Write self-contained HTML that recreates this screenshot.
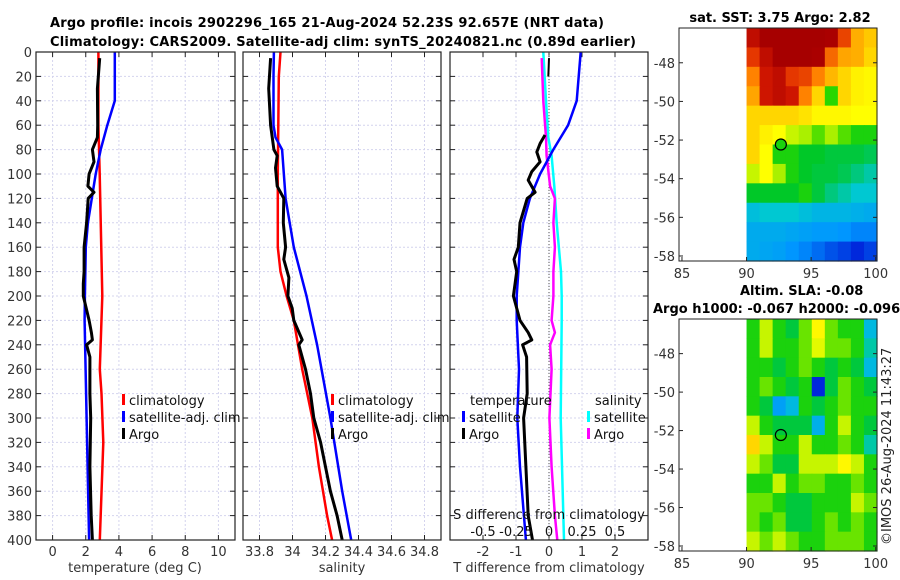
<!DOCTYPE html>
<html><head><meta charset="utf-8"><style>
html,body{margin:0;padding:0;background:#fff}
svg{display:block;font-family:"DejaVu Sans","Liberation Sans",sans-serif}
</style></head><body>
<svg id="c" width="900" height="580" viewBox="0 0 900 580" xmlns="http://www.w3.org/2000/svg">
<text x="50" y="27" font-size="13" font-weight="bold" textLength="554">Argo profile: incois 2902296_165 21-Aug-2024 52.23S 92.657E (NRT data)</text>
<text x="50" y="46" font-size="13" font-weight="bold" textLength="586">Climatology: CARS2009. Satellite-adj clim: synTS_20240821.nc (0.89d earlier)</text>
<text x="780" y="22" font-size="13" font-weight="bold" text-anchor="middle">sat. SST: 3.75 Argo: 2.82</text>
<text x="740" y="295" font-size="13" font-weight="bold">Altim. SLA: -0.08</text>
<text x="653" y="313" font-size="13" font-weight="bold">Argo h1000: -0.067 h2000: -0.096</text>
<text transform="translate(891,545) rotate(-90)" font-size="13" fill="#222">©IMOS 26-Aug-2024 11:43:27</text>
<g id="g"></g>
</svg>
<script>
// ---- data ----
const depthTicks=[0,20,40,60,80,100,120,140,160,180,200,220,240,260,280,300,320,340,360,380,400];
const tTicks=[0,2,4,6,8,10];
const sTicks=[33.8,34,34.2,34.4,34.6,34.8];
const sTickLabels=["33.8","34","34.2","34.4","34.6","34.8"];
const dTicks=[-2,-1,0,1,2];
const dsTicks=[-0.5,-0.25,0,0.25,0.5];
const dsTickLabels=["-0.5","-0.25","0","0.25","0.5"];

const argoDepth=[5,30,60,70,80,90,100,110,115,120,140,160,180,190,200,220,230,236,240,250,280,300,340,380,400];
const argoTemp=[2.84,2.7,2.72,2.7,2.4,2.5,2.2,2.13,2.5,2.15,2.05,1.9,1.9,1.85,1.85,2.2,2.34,2.4,2.05,2.25,2.25,2.3,2.25,2.33,2.4];
const argoSalDepth=[5,30,60,80,85,95,110,120,140,160,170,185,200,210,220,236,240,260,280,300,320,340,360,380,400];
const argoSal=[33.867,33.856,33.867,33.887,33.907,33.897,33.907,33.947,33.944,33.958,33.947,33.978,33.972,33.998,34.008,34.059,34.038,34.079,34.109,34.129,34.17,34.2,34.23,34.27,34.301];
const climTDepth=[0,60,100,200,260,280,320,400];
const climTemp=[2.76,2.76,2.84,3.0,2.85,2.95,3.06,2.85];
const satTDepth=[0,40,60,80,100,140,160,200,220,300,400];
const satTemp=[3.75,3.75,3.3,2.9,2.6,2.13,2.0,1.95,1.93,2.05,2.2];
const climSDepth=[0,20,100,160,180,200,220,260,300,340,380,400];
const climSal=[33.927,33.917,33.911,33.911,33.927,33.964,34.008,34.059,34.12,34.16,34.21,34.24];
const satSDepth=[0,20,60,70,80,120,160,200,240,300,360,400];
const satSal=[33.887,33.885,33.885,33.897,33.937,33.958,34.008,34.085,34.149,34.23,34.301,34.356];
const dSatTDepth=[0,40,60,80,100,120,140,160,200,220,260,300,340,400];
const dSatT=[0.96,0.84,0.58,0.13,-0.27,-0.58,-0.78,-0.88,-0.98,-0.98,-0.91,-0.96,-0.88,-0.7];
const dArgoTDepth=[68,75,82,90,98,105,115,120,140,160,170,180,200,220,230,236,240,250,280,300,340,380,400];
const dArgoT=[-0.12,-0.27,-0.37,-0.27,-0.52,-0.63,-0.42,-0.66,-0.88,-0.93,-1.06,-0.98,-1.08,-0.88,-0.63,-0.52,-0.8,-0.68,-0.66,-0.77,-0.7,-0.63,-0.5];
const dArgoTTopDepth=[5,12,20];
const dArgoTTop=[0,-0.01,-0.02];
const dArgoSDepth=[5,40,70,85,110,120,140,160,180,200,220,230,240,260,300,340,380,400];
const dArgoS=[-0.055,-0.043,-0.023,-0.018,0.008,0.045,0.033,0.045,0.033,0.033,0.02,0.045,0.008,0.02,0.003,0.02,0.045,0.063];
const dSatSDepth=[0,40,70,85,110,140,180,200,220,300,400];
const dSatS=[-0.043,-0.023,-0.005,0.02,0.04,0.058,0.091,0.096,0.096,0.089,0.114];

const lonTicks=[85,90,95,100];
const latTicks=[-48,-50,-52,-54,-56,-58];
const argoLon=92.657, argoLat=-52.23;
const sstGrid=[
[0.92,0.96,0.96,0.96,0.96,0.96,0.95,0.85,0.75,0.72],
[0.86,0.92,0.96,0.96,0.96,0.95,0.82,0.76,0.75,0.7],
[0.8,0.9,0.92,0.86,0.85,0.8,0.74,0.7,0.66,0.65],
[0.76,0.9,0.92,0.9,0.8,0.7,0.52,0.7,0.66,0.65],
[0.7,0.7,0.7,0.7,0.68,0.65,0.65,0.65,0.64,0.64],
[0.7,0.66,0.64,0.6,0.58,0.54,0.58,0.54,0.5,0.5],
[0.7,0.64,0.5,0.5,0.46,0.46,0.45,0.45,0.45,0.44],
[0.6,0.64,0.58,0.5,0.46,0.45,0.45,0.44,0.42,0.4],
[0.46,0.46,0.46,0.46,0.5,0.45,0.42,0.4,0.38,0.38],
[0.36,0.38,0.38,0.38,0.36,0.34,0.34,0.34,0.33,0.32],
[0.32,0.32,0.32,0.31,0.3,0.29,0.29,0.28,0.26,0.26],
[0.32,0.31,0.3,0.28,0.26,0.23,0.2,0.18,0.15,0.18]];
const slaGrid=[
[0.5,0.6,0.5,0.45,0.55,0.65,0.55,0.5,0.5,0.35],
[0.5,0.6,0.5,0.5,0.55,0.62,0.55,0.55,0.5,0.4],
[0.5,0.5,0.45,0.5,0.55,0.5,0.45,0.5,0.45,0.35],
[0.5,0.55,0.5,0.45,0.5,0.15,0.45,0.55,0.5,0.45],
[0.5,0.45,0.3,0.35,0.5,0.45,0.5,0.55,0.5,0.5],
[0.6,0.5,0.45,0.45,0.45,0.33,0.5,0.6,0.5,0.45],
[0.7,0.6,0.5,0.5,0.6,0.5,0.5,0.55,0.5,0.4],
[0.6,0.55,0.45,0.45,0.6,0.6,0.6,0.65,0.6,0.5],
[0.5,0.5,0.6,0.5,0.55,0.55,0.5,0.5,0.55,0.5],
[0.55,0.55,0.5,0.45,0.45,0.5,0.5,0.5,0.6,0.55],
[0.55,0.5,0.55,0.45,0.45,0.5,0.55,0.5,0.55,0.5],
[0.6,0.55,0.6,0.55,0.5,0.5,0.55,0.55,0.55,0.5]];

// ---- helpers ----
const NS="http://www.w3.org/2000/svg";
const G=document.getElementById('g');
function mk(tag,attrs,parent){const e=document.createElementNS(NS,tag);for(const k in attrs)e.setAttribute(k,attrs[k]);(parent||G).appendChild(e);return e;}
const PT=52,PB=540;
const yD=d=>PT+(d/400)*(PB-PT);
const panels=[
 {x0:36,x1:235,v0:-1,v1:11},
 {x0:243,x1:441,v0:33.7,v1:34.9},
 {x0:450,x1:648,v0:-3,v1:3}];
const sx=(p,v)=>p.x0+(v-p.v0)/(p.v1-p.v0)*(p.x1-p.x0);
const sxS=v=>sx(panels[2],v*4);

function txt(x,y,s,attrs,name){const t=mk('text',Object.assign({x:x,y:y,'font-size':13,fill:'#333'},attrs||{}));t.textContent=s;


return t;}

const ticksX=[tTicks,sTicks,dTicks];
const labX=[tTicks.map(String),sTickLabels,dTicks.map(String)];
panels.forEach((p,i)=>{
  const gp=mk('g',{});
  
  
  ticksX[i].forEach(v=>{const x=sx(p,v);
    const l=mk('line',{x1:x,x2:x,y1:PT,y2:PB,stroke:'#d4d4ee','stroke-width':1,'stroke-dasharray':'2,2'},gp);
    
    
    mk('line',{x1:x,x2:x,y1:PB,y2:PB-5,stroke:'#222'},gp);
    mk('line',{x1:x,x2:x,y1:PT,y2:PT+5,stroke:'#222'},gp);
  });
  depthTicks.forEach(d=>{const y=yD(d);
    const l=mk('line',{x1:p.x0,x2:p.x1,y1:y,y2:y,stroke:'#d4d4ee','stroke-width':1,'stroke-dasharray':'2,2'},gp);
    
    
    mk('line',{x1:p.x0,x2:p.x0+5,y1:y,y2:y,stroke:'#222'},gp);
    mk('line',{x1:p.x1,x2:p.x1-5,y1:y,y2:y,stroke:'#222'},gp);
  });
  ticksX[i].forEach((v,j)=>{txt(sx(p,v),556,labX[i][j],{'text-anchor':'middle'},'x-tick-label');});
});
depthTicks.forEach(d=>txt(32,yD(d)+5,String(d),{'text-anchor':'end'},'depth-tick-label'));
txt(135,572,'temperature (deg C)',{'text-anchor':'middle'},'x-axis-title-temperature');
txt(342,572,'salinity',{'text-anchor':'middle'},'x-axis-title-salinity');
txt(549,572,'T difference from climatology',{'text-anchor':'middle'},'x-axis-title-t-difference');

const zl=mk('line',{x1:sx(panels[2],0),x2:sx(panels[2],0),y1:PT,y2:PB,stroke:'#555','stroke-width':1,'stroke-dasharray':'1,2'});



function line(depths,vals,xf,color,w,name){
  const pts=depths.map((d,i)=>xf(vals[i]).toFixed(1)+','+yD(d).toFixed(1)).join(' ');
  const l=mk('polyline',{points:pts,fill:'none',stroke:color,'stroke-width':w,'stroke-linejoin':'round'});
  
  
}
const P0=v=>sx(panels[0],v),P1=v=>sx(panels[1],v),P2=v=>sx(panels[2],v);
line(climTDepth,climTemp,P0,'#ff0000',2.5,'temperature-climatology-line');
line(satTDepth,satTemp,P0,'#0000ff',2.5,'temperature-satellite-line');
line(argoDepth,argoTemp,P0,'#000',3,'temperature-argo-line');
line(climSDepth,climSal,P1,'#ff0000',2.5,'salinity-climatology-line');
line(satSDepth,satSal,P1,'#0000ff',2.5,'salinity-satellite-line');
line(argoSalDepth,argoSal,P1,'#000',3,'salinity-argo-line');
line(dSatSDepth,dSatS,sxS,'#00ffff',2.5,'s-diff-satellite-line');
line(dArgoSDepth,dArgoS,sxS,'#ff00ff',2.5,'s-diff-argo-line');
line(dSatTDepth,dSatT,P2,'#0000ff',2.5,'t-diff-satellite-line');
line(dArgoTDepth,dArgoT,P2,'#000',3,'t-diff-argo-line');
line(dArgoTTopDepth,dArgoTTop,P2,'#000',2,'t-diff-argo-top-line');

panels.forEach((p,i)=>{const r=mk('rect',{x:p.x0,y:PT,width:p.x1-p.x0,height:PB-PT,fill:'none',stroke:'#222','stroke-width':1.2});

});

txt(549,519,'S difference from climatology',{'text-anchor':'middle',fill:'#111'},'s-diff-axis-title');
dsTicks.forEach((v,j)=>txt(sxS(v),536,dsTickLabels[j],{'text-anchor':'middle',fill:'#111'},'s-diff-tick-label'));

function leg(x,y,color,label,name){
  const m=mk('rect',{x:x,y:y-7,width:3,height:11,fill:color});
  
  
  txt(x+7,y+4,label,{fill:'#111'},name);
}
leg(122,401,'#ff0000','climatology','legend-climatology');
leg(122,418,'#0000ff','satellite-adj. clim','legend-satellite-adj');
leg(122,435,'#000','Argo','legend-argo');
leg(331,401,'#ff0000','climatology','legend2-climatology');
leg(331,418,'#0000ff','satellite-adj. clim','legend2-satellite-adj');
leg(331,435,'#000','Argo','legend2-argo');
txt(470,405,'temperature',{fill:'#111'},'legend-temperature-heading');
leg(462,418,'#0000ff','satellite','legend-t-satellite');
leg(462,435,'#000','Argo','legend-t-argo');
txt(595,405,'salinity',{fill:'#111'},'legend-salinity-heading');
leg(587,418,'#00ffff','satellite','legend-s-satellite');
leg(587,435,'#ff00ff','Argo','legend-s-argo');

const cmStops=[[0,[0,0,140]],[0.15,[0,40,220]],[0.28,[0,150,255]],[0.38,[0,200,210]],[0.46,[0,200,40]],[0.52,[40,215,0]],[0.58,[170,240,0]],[0.64,[255,255,0]],[0.72,[255,200,0]],[0.8,[255,130,0]],[0.88,[220,30,0]],[0.95,[170,0,0]],[1,[150,0,0]]];
function cmap(v){
  for(let i=1;i<cmStops.length;i++){
    if(v<=cmStops[i][0]){const a=cmStops[i-1],b=cmStops[i];const t=(v-a[0])/(b[0]-a[0]);
      const c=a[1].map((x,k)=>Math.round(x+(b[1][k]-x)*t));return `rgb(${c[0]},${c[1]},${c[2]})`;}
  }
  return 'rgb(150,0,0)';
}
const LON0=84.77,LON1=100.1,LAT0=-46.2,LAT1=-58.26;
function drawMap(top,bottom,grid,name){
  const L=679,R=877;
  const mx=lon=>L+(lon-LON0)/(LON1-LON0)*(R-L);
  const my=lat=>top+(lat-LAT0)/(LAT1-LAT0)*(bottom-top);
  const gm=mk('g',{});
  
  
  const nr=grid.length,nc=grid[0].length;
  const cw=(mx(100.1)-mx(90))/nc, ch=(bottom-top)/nr;
  grid.forEach((row,i)=>row.forEach((v,j)=>{
    const c=mk('rect',{x:(mx(90)+j*cw).toFixed(2),y:(top+i*ch).toFixed(2),width:(cw+0.6).toFixed(2),height:(ch+0.6).toFixed(2),fill:cmap(v)},gm);
    
    
  }));
  mk('rect',{x:L,y:top,width:R-L,height:bottom-top,fill:'none',stroke:'#222','stroke-width':1},gm);
  lonTicks.forEach(v=>{const x=mx(v);
    mk('line',{x1:x,x2:x,y1:bottom,y2:bottom-4,stroke:'#222'},gm);
    txt(x,bottom+17,String(v),{'text-anchor':'middle'},'map-lon-tick-label');});
  latTicks.forEach(v=>{const y=my(v);
    mk('line',{x1:L,x2:L+4,y1:y,y2:y,stroke:'#222'},gm);
    mk('line',{x1:R,x2:R-4,y1:y,y2:y,stroke:'#222'},gm);
    txt(675,y+5,String(v),{'text-anchor':'end'},'map-lat-tick-label');});
  const m=mk('circle',{cx:mx(argoLon),cy:my(argoLat),r:5.5,fill:name==='sst-map'?cmap(0.5):'none',stroke:'#000','stroke-width':1.2},gm);
  
  
}
drawMap(28,261,sstGrid,'sst-map');
drawMap(319,551,slaGrid,'sla-map');
</script>
</body></html>
